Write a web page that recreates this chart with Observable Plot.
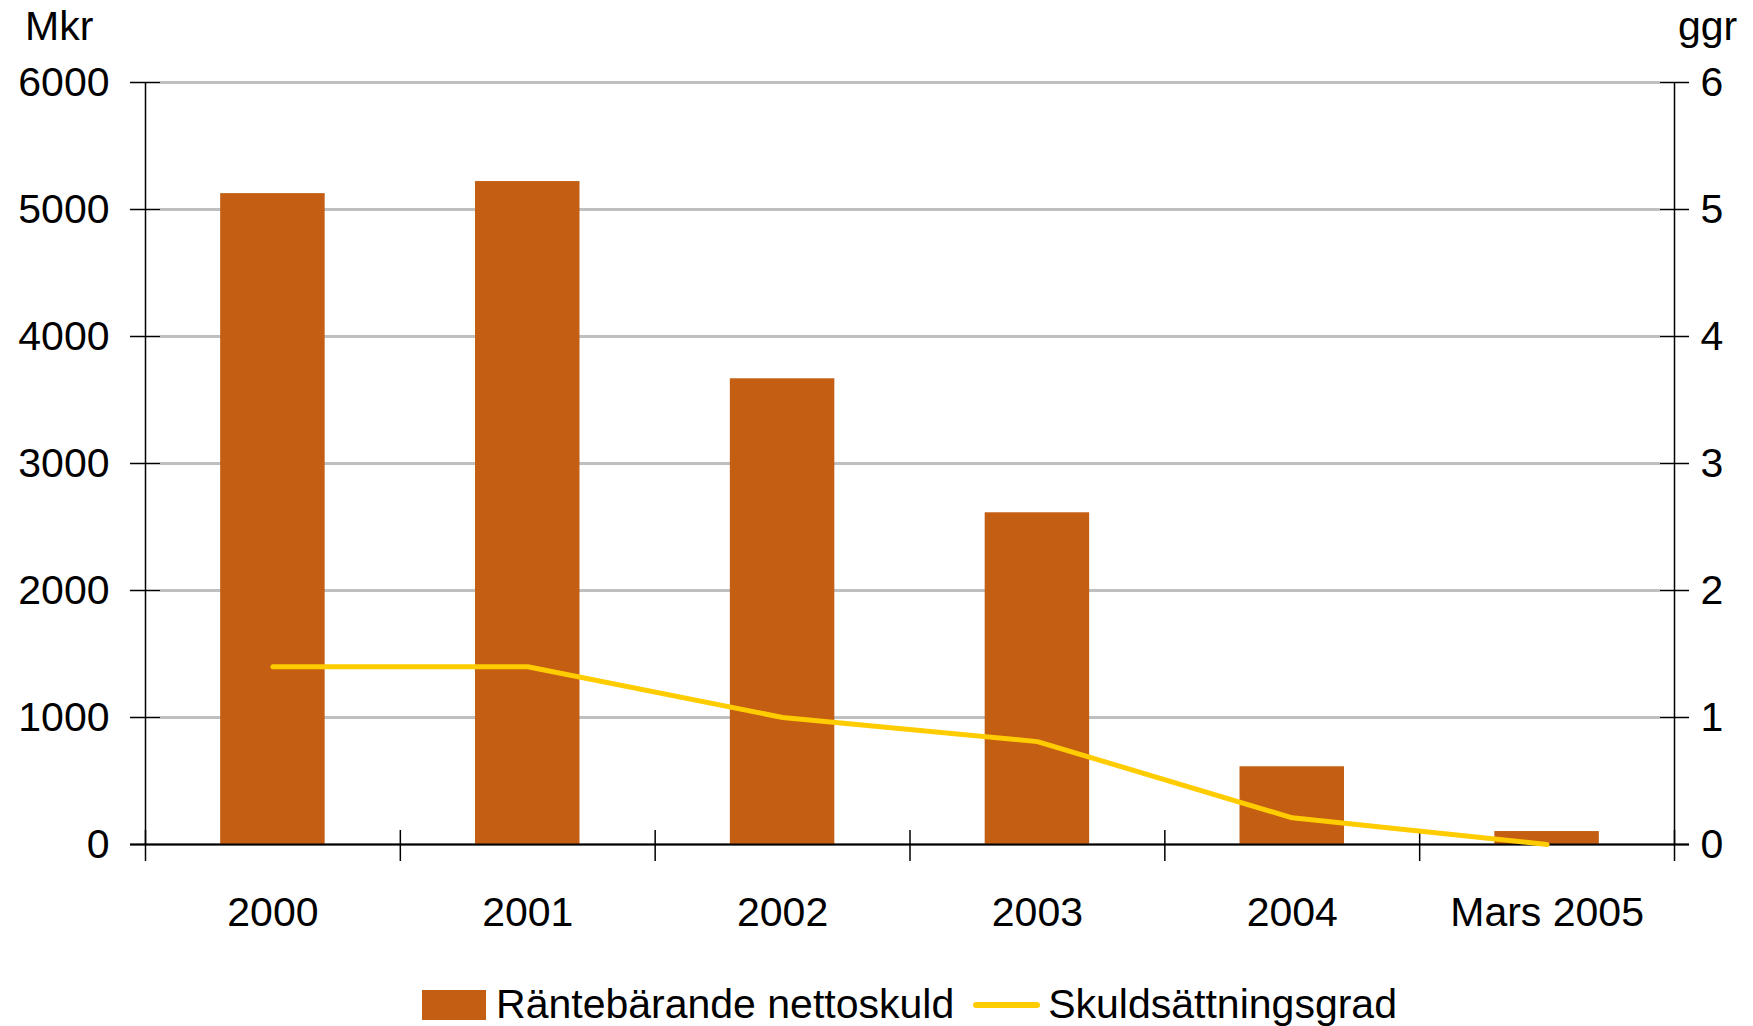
<!DOCTYPE html>
<html>
<head>
<meta charset="utf-8">
<script src="https://cdn.jsdelivr.net/npm/d3@7"></script>
<script src="https://cdn.jsdelivr.net/npm/@observablehq/plot@0.6"></script>
<style>
  html, body { margin: 0; padding: 0; background: #fff; }
  #wrap { position: relative; width: 1753px; height: 1026px; overflow: hidden;
          font-family: "Liberation Sans", Arial, sans-serif; font-size: 41px; color: #000; }
  #chart { position: absolute; left: 0; top: 0; }
  .unit { position: absolute; top: 6px; line-height: 41px; }
  #legend { position: absolute; left: 145px; width: 1529px; top: 984px; display: flex;
            justify-content: center; align-items: center; line-height: 41px; }
  .sw-bar { width: 64px; height: 30px; background: #c45e13; margin-right: 10px; }
  .sw-line { width: 67px; height: 6px; background: #ffcc00; margin-left: 19px; margin-right: 8px; border-radius: 3px; }
</style>
</head>
<body>
<div id="wrap">
  <div id="chart"></div>
  <div class="unit" style="left:25px">Mkr</div>
  <div class="unit" style="left:1678px">ggr</div>
  <div id="legend">
    <div class="sw-bar"></div><span>Räntebärande nettoskuld</span>
    <div class="sw-line"></div><span>Skuldsättningsgrad</span>
  </div>
</div>
<script>
// Data
const categories = ["2000", "2001", "2002", "2003", "2004", "Mars 2005"];
const nettoskuld = [5125, 5220, 3667, 2612, 612, 102];          // Mkr (left axis)
const skuldsattningsgrad = [1.4, 1.4, 1.0, 0.81, 0.21, 0.0];    // ggr (right axis)
const leftTicks = [0, 1000, 2000, 3000, 4000, 5000, 6000];
const rightTicks = [0, 1, 2, 3, 4, 5, 6];

const ratio = leftTicks[leftTicks.length - 1] / rightTicks[rightTicks.length - 1];
const rows = categories.map((c, i) => ({i, cat: c, netto: nettoskuld[i], grad: skuldsattningsgrad[i]}));
const bounds = d3.range(categories.length + 1);

const chart = Plot.plot({
  width: 1753,
  height: 960,
  marginLeft: 145,
  marginRight: 79,
  marginTop: 82,
  marginBottom: 116,
  x: {domain: [0, categories.length]},
  y: {domain: [leftTicks[0], leftTicks[leftTicks.length - 1]]},
  style: {fontFamily: "'Liberation Sans', Arial, sans-serif", fontSize: "41px", color: "#000", background: "#fff", overflow: "visible"},
  marks: [
    Plot.ruleY(leftTicks, {stroke: "#000", strokeWidth: 1.5, insetLeft: -15, insetRight: -15}),
    Plot.ruleY(leftTicks.filter(d => d > 0), {stroke: "#c0c0c0", strokeWidth: 2, insetLeft: 15, insetRight: 14}),
    Plot.rectY(rows, {x1: d => d.i + 0.295, x2: d => d.i + 0.705, y: "netto", fill: "#c45e13"}),
    Plot.ruleY([0], {stroke: "#000", strokeWidth: 2, insetLeft: -15, insetRight: -15}),
    Plot.ruleX([0, categories.length], {y1: 0, y2: leftTicks[leftTicks.length - 1], stroke: "#000", strokeWidth: 1.5}),
    Plot.ruleX(bounds, {y1: 0, y2: 0, insetTop: 17, insetBottom: 14, stroke: "#000", strokeWidth: 1.5}),
    Plot.line(rows, {x: d => d.i + 0.5, y: d => d.grad * ratio, stroke: "#ffcc00", strokeWidth: 5, strokeLinecap: "round", strokeLinejoin: "round"}),
    Plot.axisX(categories.map((c, i) => i + 0.5), {tickFormat: d => categories[Math.floor(d)], tickSize: 0, tickPadding: 52, label: null}),
    Plot.axisY(leftTicks, {anchor: "left", tickSize: 0, tickPadding: 36, tickFormat: d => String(d), label: null}),
    Plot.axisY(leftTicks, {anchor: "right", tickSize: 0, tickPadding: 26, tickFormat: d => String(d / ratio), label: null})
  ]
});
document.getElementById("chart").appendChild(chart);
</script>
</body>
</html>
